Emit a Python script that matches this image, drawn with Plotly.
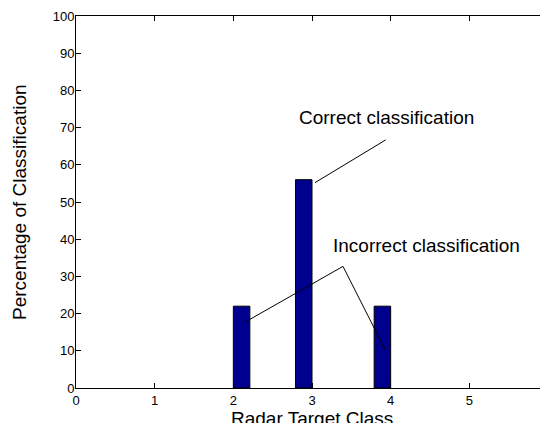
import plotly.graph_objects as go

# Data
target_class = [2, 3, 4]
percentage = [22, 56, 22]
bar_offsets = [0, -0.21, -0.21]

x_ticks = [0, 1, 2, 3, 4, 5, 6]
y_ticks = [0, 10, 20, 30, 40, 50, 60, 70, 80, 90, 100]

correct_label = "Correct classification"
correct_line_x = [3.038, 3.937]
correct_line_y = [55.2, 66.7]
correct_text_pos = (2.804, 72.8)

incorrect_label = "Incorrect classification"
incorrect_line_x = [2.148, 3.394, 3.937]
incorrect_line_y = [17.7, 32.7, 10.0]
incorrect_text_pos = (3.237, 38.4)

FONT = "Liberation Sans, Arial, Helvetica, sans-serif"

fig = go.Figure()
fig.add_trace(go.Bar(
    x=target_class, y=percentage, width=0.21, offset=bar_offsets,
    marker=dict(color="#00008F", line=dict(color="black", width=1)),
    showlegend=False, hoverinfo="skip"))
fig.add_trace(go.Scatter(x=correct_line_x, y=correct_line_y, mode="lines",
                         line=dict(color="black", width=1), showlegend=False, hoverinfo="skip"))
fig.add_trace(go.Scatter(x=incorrect_line_x, y=incorrect_line_y, mode="lines",
                         line=dict(color="black", width=1), showlegend=False, hoverinfo="skip"))

fig.add_annotation(x=correct_text_pos[0], y=correct_text_pos[1], text=correct_label,
                   showarrow=False, xanchor="left", yanchor="middle",
                   font=dict(family=FONT, size=19, color="black"))
fig.add_annotation(x=incorrect_text_pos[0], y=incorrect_text_pos[1], text=incorrect_label,
                   showarrow=False, xanchor="left", yanchor="middle",
                   font=dict(family=FONT, size=19, color="black"))

# Axis titles
fig.add_annotation(xref="paper", yref="paper", x=(19 - 76) / 472, y=0.5,
                   text="Percentage of Classification", textangle=-90, showarrow=False,
                   xanchor="center", yanchor="middle",
                   font=dict(family=FONT, size=19, color="black"))
fig.add_annotation(xref="paper", yref="paper", x=0.5, y=(388 - 418) / 372,
                   text="Radar Target Class", showarrow=False,
                   xanchor="center", yanchor="middle",
                   font=dict(family=FONT, size=19, color="black"))

axis_common = dict(showgrid=False, zeroline=False, showline=True, linecolor="black",
                   linewidth=1, mirror="ticks", ticks="inside", ticklen=5,
                   tickcolor="black", tickwidth=1, ticklabeloverflow="allow",
                   automargin=False,
                   tickfont=dict(family=FONT, size=13, color="black"))

# the page adds an 8px body margin, so the figure is offset by 8px
fig.update_layout(
    width=540, height=415,
    margin=dict(l=68, r=0, t=8, b=35),
    paper_bgcolor="white", plot_bgcolor="white",
    xaxis=dict(range=[0, 6], tickvals=x_ticks, **axis_common),
    yaxis=dict(range=[0, 100], tickvals=y_ticks, ticklabelstandoff=-2, **axis_common),
    font=dict(family=FONT),
)

fig.write_html("out.html")
